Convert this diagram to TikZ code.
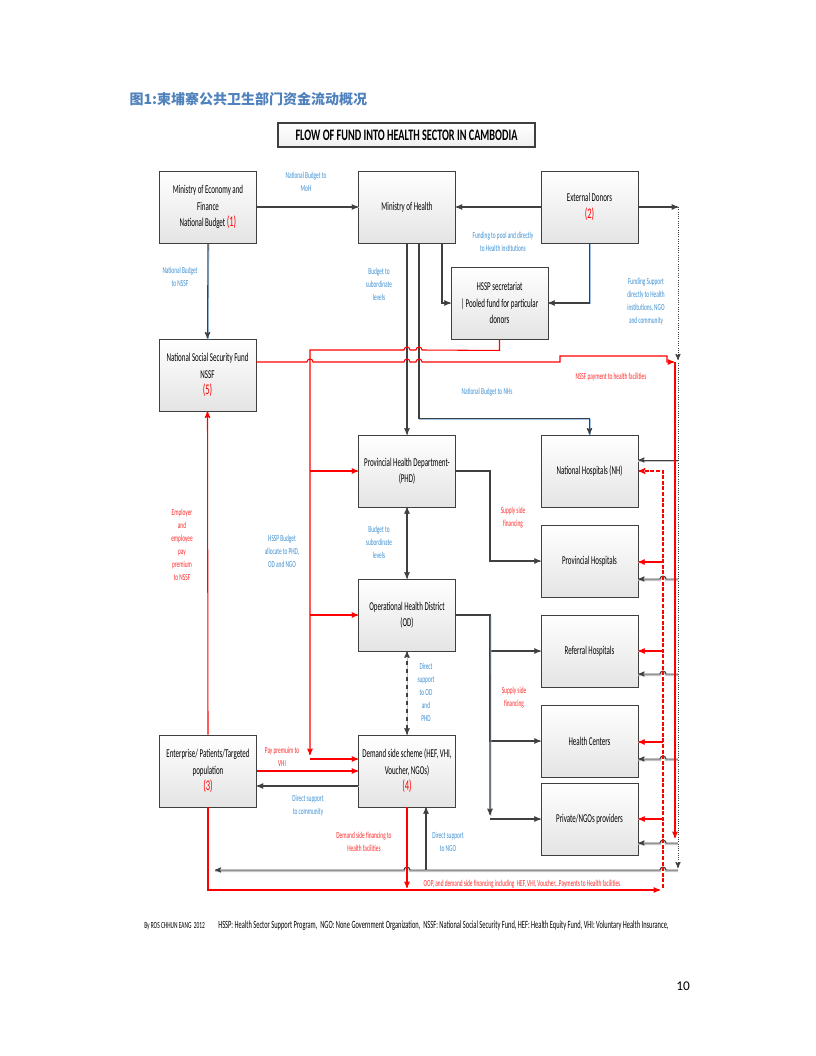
\documentclass[tikz,border=0pt]{standalone}
\usepackage{fontspec}
\setmainfont{Carlito}[FakeStretch=0.58]
\newfontfamily\plainfont{Carlito}
\newfontfamily\titlefont{Carlito}[FakeStretch=0.64]
\newfontfamily\cjk{Noto Sans CJK SC}
\usepackage{xcolor}
\usetikzlibrary{arrows}
\definecolor{boxline}{HTML}{3F3F3F}
\definecolor{boxgray}{HTML}{E4E4E4}
\definecolor{dkline}{HTML}{404040}
\definecolor{lblue}{HTML}{3D8FD1}
\definecolor{ulblue}{HTML}{9CC3E5}
\definecolor{lred}{HTML}{FF2A2A}
\definecolor{titleblue}{HTML}{4F81BD}
\newcommand{\boxnum}[1]{{\color{red}\fontsize{11}{13}\selectfont(#1)}}
\tikzset{
    box/.style = {draw=boxline, line width=0.7pt, top color=white, bottom color=boxgray, minimum width=72.75pt, minimum height=54pt, text width=72pt, align=flush center, inner sep=0pt, font=\fontsize{9}{12.4}\selectfont},
    titlebox/.style = {draw=boxline, line width=0.8pt, top color=white, bottom color=gray!12, minimum width=192.75pt, minimum height=18pt, inner sep=0pt, font=\titlefont\bfseries\fontsize{12}{13}\selectfont},
    blab/.style = {align=flush center, text=lblue, inner sep=0pt, font=\fontsize{6.9}{9.75}\selectfont},
    rlab/.style = {blab, text=lred},
    cline/.style = {draw=dkline, line width=0.8pt, preaction={draw=ulblue, line width=0.8pt, arrows=-, transform canvas={shift={(0.6pt,-0.7pt)}}}},
    rline/.style = {draw=red, line width=0.8pt},
    pline/.style = {draw=red, line width=0.8pt, preaction={draw=red!35, line width=0.8pt, arrows=-, transform canvas={yshift=-0.7pt}}},
    gline/.style = {draw=dkline, line width=0.7pt, preaction={draw=gray!45, line width=1.6pt, arrows=-, transform canvas={yshift=-0.8pt}}}
}
\begin{document}
\begin{tikzpicture}[x=0.75pt, y=-0.75pt, >=stealth']
\useasboundingbox (0,0) rectangle (816,1056);
% titles
\node[anchor=west, text=titleblue, font=\cjk\bfseries\fontsize{10.5}{12}\selectfont] (cntitle) at (125,99) {图1:柬埔寨公共卫生部门资金流动概况};
\node[titlebox] (title) at (406.5,135) {FLOW OF FUND INTO HEALTH SECTOR IN CAMBODIA};

% boxes
\node[box] (mef) at (208,207) {Ministry of Economy and\\Finance\\National Budget \boxnum{1}};
\node[box] (moh) at (407,207) {Ministry of Health};
\node[box] (donor) at (589.5,207) {External Donors\\\boxnum{2}};
\node[box] (hssp) at (499.5,303) {HSSP secretariat\\| Pooled fund for particular\\donors};
\node[box] (nssf) at (207.5,375) {National Social Security Fund\\NSSF\\\boxnum{5}};
\node[box] (phd) at (407,471) {Provincial Health Department-\\(PHD)};
\node[box] (nh) at (589.5,471) {National Hospitals (NH)};
\node[box] (ph) at (589.5,561) {Provincial Hospitals};
\node[box] (od) at (407,615) {Operational Health District\\(OD)};
\node[box] (rh) at (589.5,651) {Referral Hospitals};
\node[box] (hc) at (589.5,741) {Health Centers};
\node[box] (ent) at (208,771) {Enterprise/ Patients/Targeted\\population\\\boxnum{3}};
\node[box] (dss) at (407,771) {Demand side scheme (HEF, VHI,\\Voucher, NGOs)\\\boxnum{4}};
\node[box] (priv) at (589.5,819) {Private/NGOs providers};

% budget lines
\draw[cline,->] (mef.east) -- (moh.west);
\draw[cline,->] (mef.south) -- (nssf.north);
\draw[cline,->] (donor.west) -- (moh.east);
\draw[cline,->] (donor.south) |- (hssp.east);
\draw[cline,->] (moh.south) ++(35,0) |- (hssp.west);
\draw[cline,->] (moh.south) -- (phd.north);
\draw[cline,->] (moh.south) ++(12,0) -- ++(0,175) -| (nh.north);
\draw[cline,<->] (phd.south) -- (od.north);
\draw[cline,dashed,<->] (od.south) -- (dss.north);

% supply side
\draw[cline,->] (phd.east) -- ++(34,0) |- (ph.west);
\draw[cline,->] (od.east) -- ++(34,0) |- (rh.west);
\draw[cline,->] (od.east) ++(34,0) |- (hc.west);
\draw[cline,->] (od.east) ++(34,0) -- (490,815);
\draw[cline,->] (490,819) -- (priv.west);
\draw[cline,->] (dss.west) ++(0,15) coordinate (dsl) -- (dsl -| ent.east);

% donors to the right side
\coordinate (dtop) at (678,207);
\draw[cline,->] (donor.east) -- (dtop);
\draw[draw=dkline, line width=0.7pt, densely dotted, ->] (dtop) -- (678,360);
\draw[draw=dkline, line width=0.7pt, densely dotted, ->] (678,363) -- (678,868);
\draw[gline,->] (678,460) -- (nh.east |- 0,460);
\draw[gline,->] (678,579) -- (666,579) arc[start angle=0, end angle=-180, radius=3] -- (ph.east |- 0,579);
\draw[gline,->] (678,674) -- (666,674) arc[start angle=0, end angle=-180, radius=3] -- (rh.east |- 0,674);
\draw[gline,->] (678,759) -- (666,759) arc[start angle=0, end angle=-180, radius=3] -- (hc.east |- 0,759);
\draw[gline,->] (678,843) -- (666,843) arc[start angle=0, end angle=-180, radius=3] -- (priv.east |- 0,843);
\draw[gline,->] (678,870) -- (666,870) arc[start angle=0, end angle=-180, radius=3] -- (410,870) arc[start angle=0, end angle=-180, radius=3] -- (215,870);
\draw[cline,->] (dss.south) ++(19,63) -- ++(0,-63);

% NSSF and HSSP money
\draw[rline,->] (nssf.east) ++(0,-13) -- (307,362) arc[start angle=180, end angle=360, radius=3] -- (404,362) arc[start angle=180, end angle=360, radius=3] -- (416,362) arc[start angle=180, end angle=360, radius=3] -- (560,362) -- (560,356) -- (667,356) -- (667,362) -- (674,362);
\draw[rline,->] (675,362) -- (675,838);
\draw[rline,->] (hssp.south) -- ++(0,11) -- (422,350) arc[start angle=0, end angle=-180, radius=3] -- (410,350) arc[start angle=0, end angle=-180, radius=3] -- (310,350) -- (310,755);
\draw[rline,->] (310,471) -- (phd.west);
\draw[rline,->] (310,615) -- (od.west);
\draw[rline,->] (310,759) -- (dss.west |- 0,759);
\draw[rline,->] (ent.north) -- (nssf.south);
\draw[rline,->] (ent.east) -- (dss.west);

% payments to facilities
\draw[rline,->] (ent.south) |- (660,890);
\draw[rline,->] (dss.south) -- (407,888);
\draw[draw=red, line width=0.9pt, dash pattern=on 3pt off 1.2pt, ->] (663,888) |- (nh.east);
\draw[pline,->] (663,562) -- (ph.east |- 0,562);
\draw[pline,->] (663,651) -- (rh.east);
\draw[pline,->] (663,742) -- (hc.east |- 0,742);
\draw[pline,->] (663,819) -- (priv.east);

% labels
\node[blab] (l1) at (306,182) {National Budget to\\MoH};
\node[blab] (l2) at (180,277) {National Budget\\to NSSF};
\node[blab] (l3) at (379,284) {Budget to\\subordinate\\levels};
\node[blab] (l4) at (503,242) {Funding to pool and directly\\to Health institutions};
\node[blab] (l5) at (646,302) {Funding Support\\directly to Health\\institutions, NGO\\and community};
\node[rlab] (l6) at (611,377) {NSSF payment to health facilities};
\node[blab] (l7) at (487,392) {National Budget to NHs};
\node[rlab] (l8) at (513,518) {Supply side\\financing};
\node[blab] (l9) at (379,542) {Budget to\\subordinate\\levels};
\node[blab] (l10) at (282,551) {HSSP Budget\\allocate to PHD,\\OD and NGO};
\node[rlab] (l11) at (182,545) {Employer\\and\\employee\\pay\\premium\\to NSSF};
\node[rlab] (l12) at (514,698) {Supply side\\financing};
\node[blab] (l13) at (426,692) {Direct\\support\\to OD\\and\\PHD};
\node[rlab] (l14) at (282,757) {Pay premuim to\\VHI};
\node[blab] (l15) at (308,806) {Direct support\\to community};
\node[rlab] (l16) at (364,842) {Demand side financing to\\Health facilities};
\node[blab] (l17) at (448,842) {Direct support\\to NGO};
\node[rlab] (l18) at (522,884) {OOP, and demand side financing including\ \ HEF, VHI, Voucher...Payments to Health facilities};

% footer
\node[anchor=west, inner sep=0pt, font=\fontsize{7}{8}\selectfont] (byline) at (144,926) {By ROS CHHUN EANG\ \ 2012};
\node[anchor=west, inner sep=0pt, font=\fontsize{8.3}{9}\selectfont] (abbr) at (218,926) {HSSP: Health Sector Support Program,\ \ NGO: None Government Organization,\ \ NSSF: National Social Security Fund, HEF: Health Equity Fund, VHI: Voluntary Health Insurance,};
\node[font=\plainfont\fontsize{10}{12}\selectfont] (page) at (683,986) {10};
\end{tikzpicture}
\end{document}
